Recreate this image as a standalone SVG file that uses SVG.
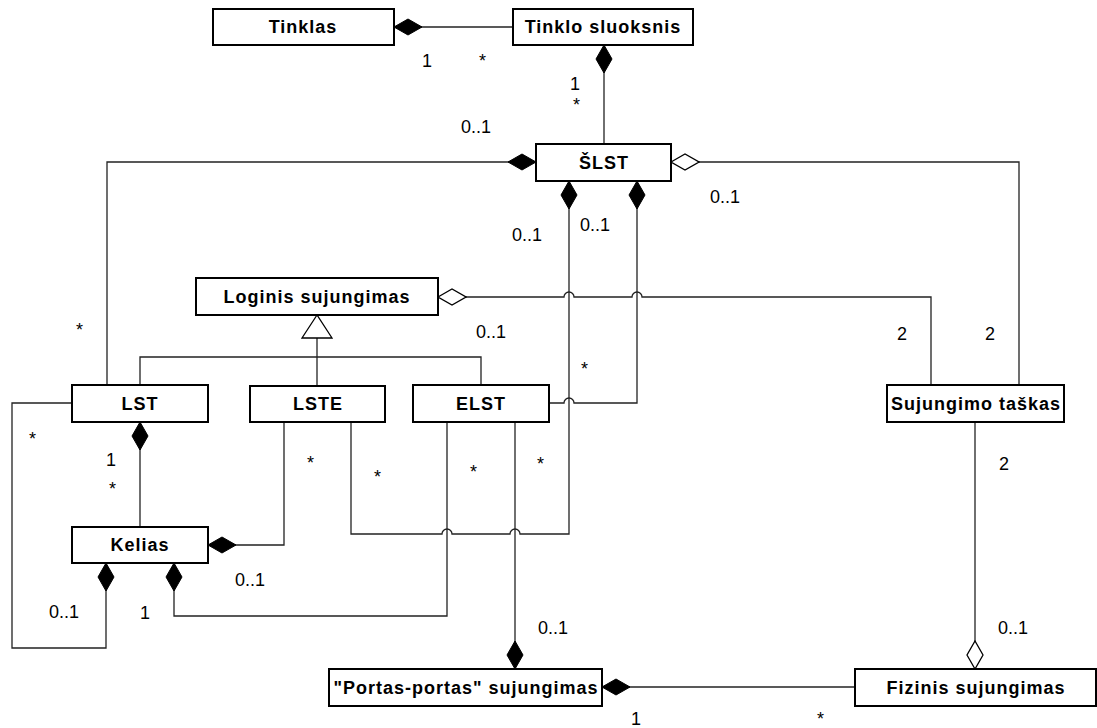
<svg xmlns="http://www.w3.org/2000/svg" width="1097" height="728" viewBox="0 0 1097 728">
  <style>
    .box { fill: #fff; stroke: #000; stroke-width: 2; }
    .name { font-family: "Liberation Sans", Arial, sans-serif; font-size: 18px; font-weight: bold; letter-spacing: 1px; text-anchor: middle; fill: #000; }
    .lbl { font-family: "Liberation Sans", Arial, sans-serif; font-size: 18px; fill: #000; }
    .conn { fill: none; stroke: #222; stroke-width: 1.3; }
    .comp { marker-start: url(#filled); }
    .aggr { marker-start: url(#hollow); }
  </style>
  <defs>
    <marker id="filled" viewBox="-1 -1 30 18" refX="0" refY="8" markerWidth="30" markerHeight="18" markerUnits="userSpaceOnUse" orient="auto">
      <path d="M0,8 L14,0 L28,8 L14,16 Z" fill="#000" stroke="#000" stroke-width="1"/>
    </marker>
    <marker id="hollow" viewBox="-1 -1 30 18" refX="0" refY="8" markerWidth="30" markerHeight="18" markerUnits="userSpaceOnUse" orient="auto">
      <path d="M0,8 L14,0 L28,8 L14,16 Z" fill="#fff" stroke="#000" stroke-width="1.3"/>
    </marker>
  </defs>

  <rect width="1097" height="728" fill="#fff"/>

  <!-- connectors -->
  <g id="connectors">
    <path class="conn comp" d="M394,27 H513"/>
    <path class="conn comp" d="M604,45 V143"/>
    <path class="conn comp" d="M536,162 H107 V385"/>
    <path class="conn aggr" d="M671,162 H1019 V385"/>
    <path class="conn comp" d="M569,181 V534 H520 a5,5 0 0 0 -10,0 H452 a5,5 0 0 0 -10,0 H351 V422"/>
    <path class="conn comp" d="M637,181 V403 H574 a5,5 0 0 0 -10,0 H549"/>
    <path class="conn aggr" d="M438,297 H564 a5,5 0 0 1 10,0 H632 a5,5 0 0 1 10,0 H931 V385"/>
    <!-- generalization -->
    <path class="conn" d="M317,338 V386"/>
    <path class="conn" d="M140,385 V357 H481 V385"/>
    <polygon points="317,315 302,338 332,338" fill="#fff" stroke="#000" stroke-width="1.3"/>
    <path class="conn comp" d="M140,422 V527"/>
    <path class="conn comp" d="M106,563 V648 H12 V403 H72"/>
    <path class="conn comp" d="M208,545 H284 V422"/>
    <path class="conn comp" d="M174,563 V616 H447 V421"/>
    <path class="conn comp" d="M515,669 V421"/>
    <path class="conn comp" d="M602,687 H855"/>
    <path class="conn aggr" d="M975,669 V422"/>
  </g>

  <!-- nodes -->
  <g id="tinklas">
    <rect class="box" x="213" y="9" width="181" height="36"/>
    <text class="name" x="303" y="33">Tinklas</text>
  </g>
  <g id="tinklo-sluoksnis">
    <rect class="box" x="513" y="9" width="180" height="36"/>
    <text class="name" x="603" y="33">Tinklo sluoksnis</text>
  </g>
  <g id="slst">
    <rect class="box" x="536" y="144" width="135" height="37"/>
    <text class="name" x="604" y="169">ŠLST</text>
  </g>
  <g id="loginis-sujungimas">
    <rect class="box" x="196" y="278" width="242" height="37"/>
    <text class="name" x="317" y="303">Loginis sujungimas</text>
  </g>
  <g id="lst">
    <rect class="box" x="72" y="385" width="136" height="37"/>
    <text class="name" x="140" y="410">LST</text>
  </g>
  <g id="lste">
    <rect class="box" x="250" y="386" width="135" height="36"/>
    <text class="name" x="318" y="410">LSTE</text>
  </g>
  <g id="elst">
    <rect class="box" x="413" y="385" width="136" height="37"/>
    <text class="name" x="481" y="410">ELST</text>
  </g>
  <g id="sujungimo-taskas">
    <rect class="box" x="887" y="385" width="177" height="37"/>
    <text class="name" x="976" y="410">Sujungimo taškas</text>
  </g>
  <g id="kelias">
    <rect class="box" x="72" y="527" width="136" height="36"/>
    <text class="name" x="140" y="551">Kelias</text>
  </g>
  <g id="portas-portas">
    <rect class="box" x="329" y="669" width="273" height="37"/>
    <text class="name" x="466" y="694">"Portas-portas" sujungimas</text>
  </g>
  <g id="fizinis-sujungimas">
    <rect class="box" x="855" y="669" width="241" height="37"/>
    <text class="name" x="976" y="694">Fizinis sujungimas</text>
  </g>

  <!-- multiplicities -->
  <g id="multiplicities">
    <text class="lbl" x="422" y="67">1</text>
    <text class="lbl" x="479" y="67">*</text>
    <text class="lbl" x="570" y="90">1</text>
    <text class="lbl" x="573" y="111">*</text>
    <text class="lbl" x="461" y="133">0..1</text>
    <text class="lbl" x="710" y="203">0..1</text>
    <text class="lbl" x="512" y="241">0..1</text>
    <text class="lbl" x="580" y="231">0..1</text>
    <text class="lbl" x="76" y="336">*</text>
    <text class="lbl" x="476" y="338">0..1</text>
    <text class="lbl" x="581" y="375">*</text>
    <text class="lbl" x="897" y="340">2</text>
    <text class="lbl" x="985" y="340">2</text>
    <text class="lbl" x="29" y="445">*</text>
    <text class="lbl" x="106" y="466">1</text>
    <text class="lbl" x="109" y="495">*</text>
    <text class="lbl" x="307" y="469">*</text>
    <text class="lbl" x="374" y="483">*</text>
    <text class="lbl" x="470" y="478">*</text>
    <text class="lbl" x="537" y="470">*</text>
    <text class="lbl" x="999" y="470">2</text>
    <text class="lbl" x="235" y="586">0..1</text>
    <text class="lbl" x="49" y="618">0..1</text>
    <text class="lbl" x="140" y="619">1</text>
    <text class="lbl" x="538" y="634">0..1</text>
    <text class="lbl" x="998" y="634">0..1</text>
    <text class="lbl" x="631" y="725">1</text>
    <text class="lbl" x="817" y="725">*</text>
  </g>
</svg>
